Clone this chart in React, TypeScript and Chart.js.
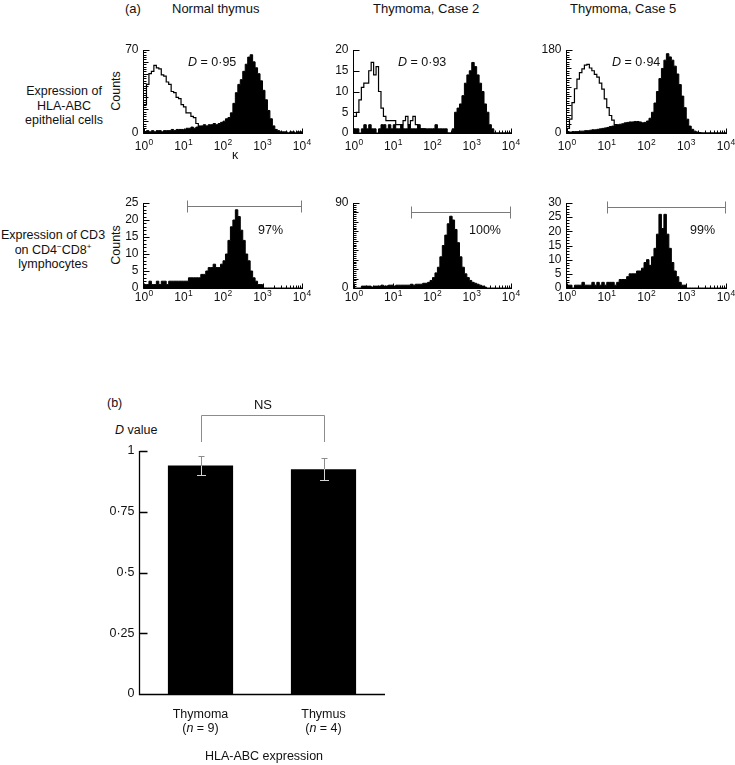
import React, { useEffect, useRef } from 'react';
import { Chart, registerables } from 'chart.js';

Chart.register(...registerables);

const FONT = '"Liberation Sans", Arial, Helvetica, sans-serif';
const INK = '#111';

// ---------------- data ----------------
const BINS_PER_DECADE = 16;
const decadeExponents = [0, 1, 2, 3, 4];

const panelTitles = ['Normal thymus', 'Thymoma, Case 2', 'Thymoma, Case 5'];

// (a) upper row – HLA-ABC on epithelial cells (open = control, filled = HLA-ABC)
const normalThymusControl = [
  24, 41, 50, 52, 57, 55, 54, 49, 48, 43, 41, 35, 34, 30, 29, 24,
  22, 17, 17, 14, 13, 8, 5, 3, 2, 1, 0, 0, 0, 0, 0, 0,
  0, 0, 0, 0, 0, 0, 0, 0, 0, 0, 0, 0, 0, 0, 0, 0,
  0, 0, 0, 0, 0, 0, 0, 0, 0, 0, 0, 0, 0, 0, 0, 0,
];
const normalThymusHLA = [
  1, 2, 1, 2, 1, 2, 2, 1, 2, 2, 2, 3, 2, 3, 3, 3,
  3, 4, 4, 5, 4, 5, 6, 6, 7, 6, 7, 7, 8, 7, 8, 9,
  10, 12, 13, 17, 25, 34, 41, 45, 52, 58, 64, 66, 60, 55, 50, 44,
  36, 28, 19, 12, 6, 3, 2, 1, 1, 1, 0, 1, 1, 0, 1, 1,
];
const case2Control = [
  4, 5, 8, 11, 12, 12, 15, 17, 14, 16, 10, 6, 4, 3, 3, 3,
  3, 2, 2, 2, 3, 4, 2, 3, 4, 2, 1, 1, 1, 0, 0, 0,
  0, 0, 0, 0, 0, 0, 0, 0, 0, 0, 0, 0, 0, 0, 0, 0,
  0, 0, 0, 0, 0, 0, 0, 0, 0, 0, 0, 0, 0, 0, 0, 0,
];
const case2HLA = [
  1, 1, 0, 1, 2, 1, 2, 1, 1, 0, 1, 2, 2, 1, 2, 1,
  2, 1, 1, 2, 1, 1, 2, 1, 1, 1, 2, 1, 1, 1, 1, 1,
  1, 2, 1, 1, 1, 1, 0, 0, 1, 5, 6, 7, 9, 12, 14, 15,
  17, 16, 14, 12, 10, 7, 5, 2, 1, 0, 0, 0, 0, 0, 0, 0,
];
const case5Control = [
  10, 30, 66, 96, 117, 131, 139, 147, 149, 141, 135, 127, 121, 108, 95, 74,
  55, 38, 28, 18, 10, 4, 2, 0, 0, 0, 0, 0, 0, 0, 0, 0,
  0, 0, 0, 0, 0, 0, 0, 0, 0, 0, 0, 0, 0, 0, 0, 0,
  0, 0, 0, 0, 0, 0, 0, 0, 0, 0, 0, 0, 0, 0, 0, 0,
];
const case5HLA = [
  2, 2, 3, 3, 3, 4, 4, 5, 5, 6, 7, 7, 8, 9, 10, 11,
  12, 14, 15, 17, 18, 19, 20, 22, 23, 24, 24, 25, 25, 24, 22, 23,
  26, 32, 45, 65, 90, 118, 140, 158, 172, 165, 158, 145, 128, 105, 80, 55,
  30, 15, 8, 4, 2, 1, 0, 0, 0, 0, 0, 0, 0, 0, 0, 0,
];
const hlaDValues = ['0·95', '0·93', '0·94'];
const hlaYMax = [70, 20, 180];
const hlaYTicks = [[0, 70], [0, 5, 10, 15, 20], [0, 180]];

// (a) lower row – CD3 on CD4-CD8+ lymphocytes
const normalThymusCD3 = [
  1, 1, 2, 1, 1, 2, 1, 2, 2, 1, 2, 2, 2, 2, 2, 2,
  2, 2, 3, 3, 3, 3, 3, 4, 4, 5, 6, 6, 7, 6, 6, 7,
  8, 10, 14, 18, 20, 23, 21, 17, 14, 10, 8, 5, 3, 2, 1, 1,
  0, 0, 0, 0, 0, 0, 0, 0, 0, 0, 0, 0, 0, 0, 0, 0,
];
const case2CD3 = [
  0, 0, 0, 2, 2, 2, 2, 1, 2, 2, 2, 3, 2, 2, 3, 3,
  2, 3, 3, 3, 3, 3, 3, 4, 3, 4, 4, 4, 5, 5, 6, 8,
  11, 16, 22, 33, 45, 56, 68, 76, 72, 62, 48, 33, 22, 15, 11, 8,
  6, 5, 4, 3, 2, 1, 0, 0, 0, 0, 0, 0, 0, 0, 0, 0,
];
const case5CD3 = [
  1, 1, 0, 1, 1, 1, 2, 1, 1, 1, 2, 1, 2, 1, 2, 1,
  2, 2, 2, 1, 2, 3, 3, 3, 4, 5, 5, 5, 6, 6, 7, 9,
  10, 8, 11, 14, 19, 26, 21, 26, 19, 14, 9, 6, 4, 2, 1, 1,
  0, 0, 0, 0, 0, 0, 0, 0, 0, 0, 0, 0, 0, 0, 0, 0,
];
const cd3YMax = [25, 90, 30];
const cd3YTicks = [[0, 5, 10, 15, 20, 25], [0, 90], [0, 5, 10, 15, 20, 25, 30]];
const cd3GateStart = [12, 28, 10];
const cd3GateEnd = [10000, 10000, 10000];
const cd3Positive = ['97%', '100%', '99%'];

// (b) D values
const barCategories = ['Thymoma', 'Thymus'];
const barN = [9, 4];
const barMeans = [0.94, 0.925];
const barErrors = [0.04, 0.045];
const barYTicks = [0, 0.25, 0.5, 0.75, 1];
const barYTickLabels = ['0', '0·25', '0·5', '0·75', '1'];

// ---------------- layout / style ----------------
const PANEL_X = [[144, 302], [354, 511], [567, 726]];
const HLA_ROW = [50, 133];
const CD3_ROW = [203, 288];
const HLA_MINOR = [2, 0, 5];
const HLA_MID = [10, 5, 20];
const CD3_MINOR = [1, 2, 1];
const CD3_MID = [5, 10, 5];
const GATE_LEVEL = [24, 81, 28.7];
const PAD = { left: 50, top: 10, right: 14, bottom: 24 };

const toSteps = (counts: number[]) => {
  const pts = counts.map((c, i) => ({ x: Math.pow(10, i / BINS_PER_DECADE), y: c }));
  pts.push({ x: Math.pow(10, counts.length / BINS_PER_DECADE), y: counts[counts.length - 1] });
  return pts;
};

type HistCfg = {
  yMax: number; yTicks: number[]; yMinor: number; yMid: number; labelOffset: number;
  gate?: { from: number; to: number; level: number };
};

function makeHistPlugin(cfg: HistCfg) {
  return {
    id: 'histAxes',
    afterDraw(chart: any) {
      const { ctx, chartArea: a } = chart;
      const xs = chart.scales.x;
      const ys = chart.scales.y;
      ctx.save();
      ctx.strokeStyle = '#000';
      ctx.lineWidth = 1;
      const L = Math.round(a.left) - 0.5;
      const B = Math.round(a.bottom) + 0.5;
      ctx.beginPath();
      ctx.moveTo(L, Math.round(a.top));
      ctx.lineTo(L, B);
      ctx.lineTo(Math.round(a.right) + 1, B);
      decadeExponents.forEach((d) => {
        const base = Math.pow(10, d);
        const px = Math.round(xs.getPixelForValue(base)) + 0.5;
        ctx.moveTo(px, B);
        ctx.lineTo(px, B - 5);
        if (d < 4) {
          for (let k = 2; k < 10; k++) {
            const mx = Math.round(xs.getPixelForValue(k * base)) + 0.5;
            ctx.moveTo(mx, B);
            ctx.lineTo(mx, B - 3);
          }
        }
      });
      if (cfg.yMinor) {
        for (let v = 0; v <= cfg.yMax + 1e-9; v += cfg.yMinor) {
          const py = Math.round(ys.getPixelForValue(v)) + 0.5;
          const r = v / cfg.yMid;
          const len = Math.abs(r - Math.round(r)) < 1e-6 ? 5 : 3;
          ctx.moveTo(L, py);
          ctx.lineTo(L + len, py);
        }
      }
      cfg.yTicks.forEach((v) => {
        const py = Math.round(ys.getPixelForValue(v)) + 0.5;
        ctx.moveTo(L, py);
        ctx.lineTo(L + 6, py);
      });
      ctx.stroke();

      ctx.fillStyle = INK;
      ctx.font = `12px ${FONT}`;
      ctx.textAlign = 'right';
      ctx.textBaseline = 'middle';
      cfg.yTicks.forEach((v) => ctx.fillText(String(v), L - 5, ys.getPixelForValue(v)));

      ctx.textAlign = 'left';
      ctx.textBaseline = 'alphabetic';
      decadeExponents.forEach((d) => {
        const px = xs.getPixelForValue(Math.pow(10, d));
        ctx.font = `12px ${FONT}`;
        const w1 = ctx.measureText('10').width;
        ctx.font = `8.5px ${FONT}`;
        const w2 = ctx.measureText(String(d)).width;
        const x0 = px - (w1 + w2 + 0.5) / 2;
        ctx.font = `12px ${FONT}`;
        ctx.fillText('10', x0, B + cfg.labelOffset);
        ctx.font = `8.5px ${FONT}`;
        ctx.fillText(String(d), x0 + w1 + 0.5, B + cfg.labelOffset - 5);
      });

      if (cfg.gate) {
        const g = cfg.gate;
        const gy = Math.round(ys.getPixelForValue(g.level)) + 0.5;
        const gx0 = Math.round(xs.getPixelForValue(g.from)) + 0.5;
        const gx1 = Math.round(xs.getPixelForValue(g.to)) - 0.5;
        ctx.strokeStyle = '#7a7a7a';
        ctx.lineWidth = 1;
        ctx.beginPath();
        ctx.moveTo(gx0, gy);
        ctx.lineTo(gx1, gy);
        ctx.moveTo(gx0, gy - 6);
        ctx.lineTo(gx0, gy + 6);
        ctx.moveTo(gx1, gy - 6);
        ctx.lineTo(gx1, gy + 6);
        ctx.stroke();
      }
      ctx.restore();
    },
  };
}

type HistProps = HistCfg & { x0: number; x1: number; y0: number; y1: number; open?: number[]; filled: number[] };

function Histogram(p: HistProps) {
  const ref = useRef<HTMLCanvasElement>(null);
  const w = p.x1 - p.x0 + PAD.left + PAD.right;
  const h = p.y1 - p.y0 + PAD.top + PAD.bottom;
  useEffect(() => {
    const datasets: any[] = [];
    if (p.open) {
      datasets.push({
        data: toSteps(p.open), borderColor: '#000', borderWidth: 1.2, fill: false,
        stepped: 'before', pointRadius: 0, tension: 0,
      });
    }
    datasets.push({
      data: toSteps(p.filled), borderColor: '#000', backgroundColor: '#000', borderWidth: 1,
      fill: 'origin', stepped: 'before', pointRadius: 0, tension: 0,
    });
    const chart = new Chart(ref.current as HTMLCanvasElement, {
      type: 'line',
      data: { datasets },
      options: {
        animation: false,
        responsive: false,
        devicePixelRatio: 1,
        events: [],
        layout: { padding: { left: PAD.left, top: PAD.top, right: PAD.right, bottom: PAD.bottom } },
        plugins: { legend: { display: false }, tooltip: { enabled: false } },
        scales: {
          x: { type: 'logarithmic', min: 1, max: 10000, display: false },
          y: { type: 'linear', min: 0, max: p.yMax, display: false },
        },
      } as any,
      plugins: [makeHistPlugin(p)],
    });
    return () => chart.destroy();
  }, []);
  return (
    <canvas
      ref={ref}
      width={w}
      height={h}
      style={{ position: 'absolute', left: p.x0 - PAD.left, top: p.y0 - PAD.top, width: w, height: h }}
    />
  );
}

function makeBarPlugin() {
  return {
    id: 'barDecor',
    afterDraw(chart: any) {
      const { ctx, chartArea: a } = chart;
      const xs = chart.scales.x;
      const ys = chart.scales.y;
      ctx.save();
      // error bars
      barMeans.forEach((m, i) => {
        const cx = Math.round(xs.getPixelForValue(i)) + 0.5;
        const yTop = Math.round(ys.getPixelForValue(m + barErrors[i])) + 0.5;
        const yMean = Math.round(ys.getPixelForValue(m));
        const yBot = Math.round(ys.getPixelForValue(m - barErrors[i])) + 0.5;
        ctx.lineWidth = 1;
        ctx.strokeStyle = '#8c8c8c';
        ctx.beginPath();
        ctx.moveTo(cx, yTop);
        ctx.lineTo(cx, yMean);
        ctx.moveTo(cx - 3, yTop);
        ctx.lineTo(cx + 3, yTop);
        ctx.stroke();
        ctx.strokeStyle = '#d4d4d4';
        ctx.beginPath();
        ctx.moveTo(cx, yMean);
        ctx.lineTo(cx, yBot);
        ctx.moveTo(cx - 4.5, yBot);
        ctx.lineTo(cx + 4.5, yBot);
        ctx.stroke();
      });
      // axes
      ctx.strokeStyle = '#000';
      ctx.lineWidth = 1.3;
      const L = Math.round(a.left) + 0.5;
      const B = Math.round(a.bottom) + 0.5;
      ctx.beginPath();
      ctx.moveTo(L, a.top);
      ctx.lineTo(L, B);
      ctx.lineTo(a.right, B);
      barYTicks.forEach((v) => {
        const py = Math.round(ys.getPixelForValue(v)) + 0.5;
        ctx.moveTo(L, py);
        ctx.lineTo(L + 8, py);
      });
      ctx.stroke();
      ctx.fillStyle = INK;
      ctx.font = `12.5px ${FONT}`;
      ctx.textAlign = 'right';
      ctx.textBaseline = 'middle';
      barYTicks.forEach((v, i) => ctx.fillText(barYTickLabels[i], L - 5, ys.getPixelForValue(v)));

      // NS bracket
      const bx0 = Math.round(xs.getPixelForValue(0)) + 0.5;
      const bx1 = Math.round(xs.getPixelForValue(1)) + 0.5;
      const by = Math.round(a.top - 36) + 0.5;
      ctx.strokeStyle = '#8c8c8c';
      ctx.lineWidth = 1;
      ctx.beginPath();
      ctx.moveTo(bx0, a.top - 9);
      ctx.lineTo(bx0, by);
      ctx.lineTo(bx1, by);
      ctx.lineTo(bx1, a.top - 9);
      ctx.stroke();
      ctx.textAlign = 'center';
      ctx.font = `13px ${FONT}`;
      ctx.fillText('NS', (bx0 + bx1) / 2, by - 10);

      // category labels
      barCategories.forEach((c, i) => {
        const cx = xs.getPixelForValue(i);
        ctx.textAlign = 'center';
        ctx.font = `12.5px ${FONT}`;
        ctx.fillText(c, cx, a.bottom + 21);
        const p1 = '(';
        const p2 = 'n';
        const p3 = ` = ${barN[i]})`;
        const w1 = ctx.measureText(p1).width;
        const w3 = ctx.measureText(p3).width;
        ctx.font = `italic 12.5px ${FONT}`;
        const w2 = ctx.measureText(p2).width;
        let x = cx - (w1 + w2 + w3) / 2;
        ctx.textAlign = 'left';
        ctx.font = `12.5px ${FONT}`;
        ctx.fillText(p1, x, a.bottom + 35);
        x += w1;
        ctx.font = `italic 12.5px ${FONT}`;
        ctx.fillText(p2, x, a.bottom + 35);
        x += w2;
        ctx.font = `12.5px ${FONT}`;
        ctx.fillText(p3, x, a.bottom + 35);
      });
      ctx.textAlign = 'center';
      ctx.font = `12.5px ${FONT}`;
      ctx.fillText('HLA-ABC expression', (a.left + a.right) / 2 + 2, a.bottom + 63);
      ctx.restore();
    },
  };
}

const BAR_CANVAS = { left: 90, top: 380, width: 305, height: 385 };
const BAR_PAD = { left: 49, top: 71, right: 10, bottom: 71 };

function DBarChart() {
  const ref = useRef<HTMLCanvasElement>(null);
  useEffect(() => {
    const chart = new Chart(ref.current as HTMLCanvasElement, {
      type: 'bar',
      data: {
        labels: barCategories,
        datasets: [{
          data: barMeans, backgroundColor: '#000', borderWidth: 0,
          categoryPercentage: 1, barPercentage: 0.53,
        }],
      },
      options: {
        animation: false,
        responsive: false,
        devicePixelRatio: 1,
        events: [],
        layout: { padding: BAR_PAD },
        plugins: { legend: { display: false }, tooltip: { enabled: false } },
        scales: {
          x: { display: false },
          y: { display: false, min: 0, max: 1 },
        },
      } as any,
      plugins: [makeBarPlugin()],
    });
    return () => chart.destroy();
  }, []);
  return (
    <canvas
      ref={ref}
      width={BAR_CANVAS.width}
      height={BAR_CANVAS.height}
      style={{ position: 'absolute', ...BAR_CANVAS }}
    />
  );
}

type TProps = { x: number; y: number; anchor?: 'left' | 'center'; size?: number; children: React.ReactNode; style?: React.CSSProperties };
const T = ({ x, y, anchor = 'left', size = 12.5, children, style }: TProps) => (
  <div
    style={{
      position: 'absolute', left: x, top: y,
      transform: `translate(${anchor === 'center' ? '-50%' : '0'}, -50%)`,
      whiteSpace: 'nowrap', fontSize: size, lineHeight: '14.5px', fontFamily: FONT, color: INK,
      textAlign: anchor === 'center' ? 'center' : 'left',
      ...style,
    }}
  >
    {children}
  </div>
);

const TITLE_X = [172, 373, 570];
const D_X = [188, 398, 612];
const PCT_X = [258, 469, 690];

export default function App() {
  const hlaOpen = [normalThymusControl, case2Control, case5Control];
  const hlaFilled = [normalThymusHLA, case2HLA, case5HLA];
  const cd3Filled = [normalThymusCD3, case2CD3, case5CD3];
  return (
    <div style={{ position: 'absolute', left: 0, top: 0, width: 735, height: 765, overflow: 'hidden', background: '#fff' }}>
      <T x={125} y={9} size={13}>(a)</T>
      {panelTitles.map((t, i) => <T key={t} x={TITLE_X[i]} y={9} size={13}>{t}</T>)}

      <T x={64} y={106} anchor="center">Expression of<br />HLA-ABC<br />epithelial cells</T>
      <T x={53} y={250} anchor="center">
        Expression of CD3<br />on CD4<sup style={{ fontSize: 8, verticalAlign: 5, lineHeight: 0 }}>−</sup>CD8<sup style={{ fontSize: 8, verticalAlign: 5, lineHeight: 0 }}>+</sup><br />lymphocytes
      </T>
      <T x={116} y={91} anchor="center" style={{ transform: 'translate(-50%, -50%) rotate(-90deg)' }}>Counts</T>
      <T x={116} y={245} anchor="center" style={{ transform: 'translate(-50%, -50%) rotate(-90deg)' }}>Counts</T>

      {PANEL_X.map(([x0, x1], i) => (
        <Histogram
          key={'hla' + i}
          x0={x0} x1={x1} y0={HLA_ROW[0]} y1={HLA_ROW[1]}
          open={hlaOpen[i]} filled={hlaFilled[i]}
          yMax={hlaYMax[i]} yTicks={hlaYTicks[i]} yMinor={HLA_MINOR[i]} yMid={HLA_MID[i]}
          labelOffset={16}
        />
      ))}
      {PANEL_X.map(([x0, x1], i) => (
        <Histogram
          key={'cd3' + i}
          x0={x0} x1={x1} y0={CD3_ROW[0]} y1={CD3_ROW[1]}
          filled={cd3Filled[i]}
          yMax={cd3YMax[i]} yTicks={cd3YTicks[i]} yMinor={CD3_MINOR[i]} yMid={CD3_MID[i]}
          labelOffset={12}
          gate={{ from: cd3GateStart[i], to: cd3GateEnd[i], level: GATE_LEVEL[i] }}
        />
      ))}

      {hlaDValues.map((d, i) => (
        <T key={'d' + i} x={D_X[i]} y={62}><i>D</i> = {d}</T>
      ))}
      <T x={235} y={155} anchor="center">κ</T>
      {cd3Positive.map((p, i) => <T key={'p' + i} x={PCT_X[i]} y={230}>{p}</T>)}

      <T x={107} y={403}>(b)</T>
      <T x={115} y={430}><i>D</i> value</T>
      <DBarChart />
    </div>
  );
}
